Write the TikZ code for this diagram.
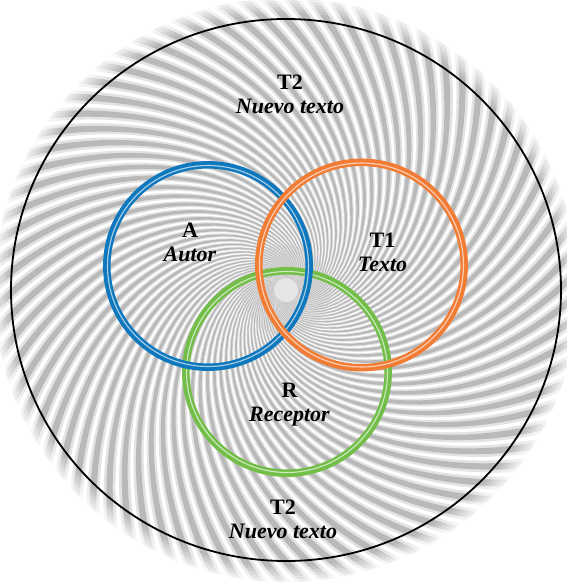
\documentclass[tikz,border=0pt]{standalone}
\usepackage{fontspec}
\setmainfont{Liberation Serif}

\definecolor{autorblue}{RGB}{14,120,190}
\definecolor{textoorange}{RGB}{242,124,52}
\definecolor{receptorgreen}{RGB}{114,190,72}

\begin{document}
\begin{tikzpicture}[
    x=1pt, y=-1pt,
    every node/.style={font=\fontsize{22}{24}\selectfont\bfseries,align=center,inner sep=0pt},
    ring/.style={draw=#1,line width=7.5pt},
    gleam/.style={draw=#1!35!white,line width=1.1pt}
]
\useasboundingbox[fill=white] (0,0) rectangle (566,584);

% swirl behind everything
\begin{scope}[shift={(286,290)}]
\fill[gray!20] (0,0) circle (45);
\foreach \a in {0,4.5,...,355.5}{
  \fill[gray!22] plot[domain=12:292,samples=28] ({\a-0.8+50*ln(292/\x)}:\x)
    -- plot[domain=292:12,samples=28] ({\a+2.6+50*ln(292/\x)}:\x) -- cycle;
  \fill[gray!55] plot[domain=12:292,samples=28] ({\a+50*ln(292/\x)}:\x)
    -- plot[domain=292:12,samples=28] ({\a+1.8+50*ln(292/\x)}:\x) -- cycle;
}
\foreach \r/\o in {279/0.15,282/0.3,285/0.45,288/0.6,291/0.75,294/0.9,298/1}
  \draw[white,line width=3.2pt,opacity=\o] (0,0) circle (\r);
\end{scope}

\coordinate (cO) at (286,290);
\coordinate (cA) at (208,266);
\coordinate (cT) at (361.5,265);
\coordinate (cR) at (287,372);

\draw[line width=1.8pt] (cO) ellipse [x radius=275,y radius=271];

\draw[ring=receptorgreen] (cR) circle (101.2);
\draw[gleam=receptorgreen] (cR) circle (100.5);
\draw[ring=autorblue] (cA) circle (101.2);
\draw[gleam=autorblue] (cA) circle (100.5);
\draw[ring=textoorange] (cT) circle (102.7);
\draw[gleam=textoorange] (cT) circle (102);

\node (t2top) at (290,94.5) {T2\\\textit{Nuevo texto}};
\node (autor) at (190,242) {A\\\textit{Autor}};
\node (texto) at (382.5,252.5) {T1\\\textit{Texto}};
\node (receptor) at (289.5,404.5) {R\\\textit{Receptor}};
\node (t2bot) at (283,519) {T2\\\textit{Nuevo texto}};
\end{tikzpicture}
\end{document}
